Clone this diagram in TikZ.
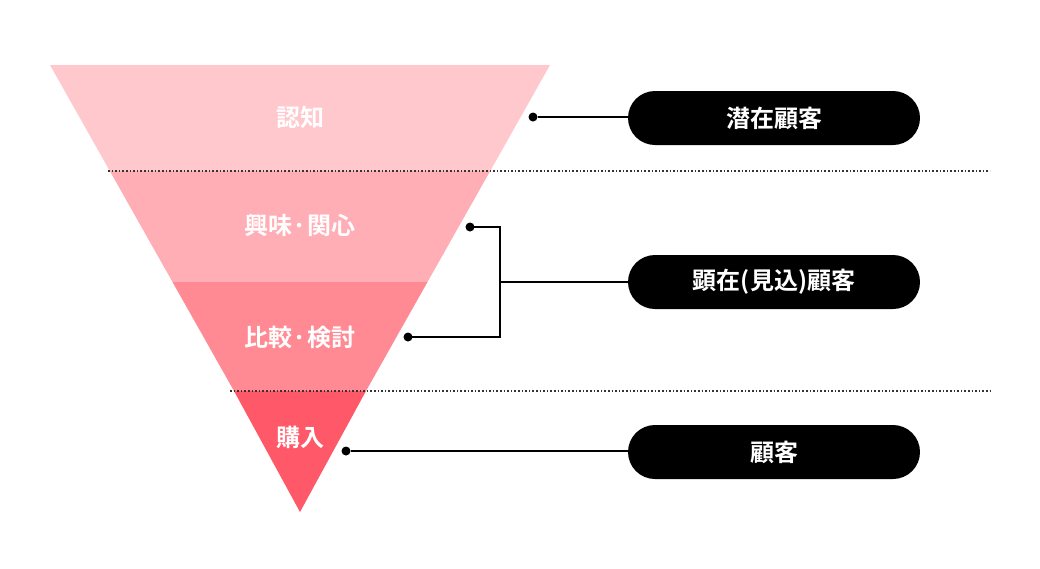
\documentclass[tikz,border=0pt]{standalone}
\usepackage{fontspec}
\setmainfont{Noto Sans CJK JP}[BoldFont={* Bold}]
\begin{document}
\begin{tikzpicture}[x=1pt,y=-1pt,
  lab/.style={text=white,font=\bfseries\fontsize{24}{24}\selectfont},
  pill/.style={fill=black,rounded corners=27pt,minimum width=292pt,minimum height=54pt,text=white,font=\bfseries\fontsize{24}{24}\selectfont},
  dot/.style={circle,fill=black,inner sep=0pt,minimum size=9pt},
  ln/.style={line width=1.3pt},
  dl/.style={dotted,line width=1.6pt,black!80}]
\useasboundingbox (0,0) rectangle (1040,568);
\fill[fill={rgb,255:red,255;green,200;blue,204}] (50,65) -- (550,65) -- (490.2,171) -- (109.8,171) -- cycle;
\fill[fill={rgb,255:red,255;green,174;blue,181}] (109.8,171) -- (490.2,171) -- (427.5,282) -- (172.5,282) -- cycle;
\fill[fill={rgb,255:red,255;green,138;blue,148}] (172.5,282) -- (427.5,282) -- (366,391) -- (234,391) -- cycle;
\fill[fill={rgb,255:red,255;green,88;blue,104}] (234,391) -- (366,391) -- (300,512) -- cycle;
\draw[dl] (108,171) -- (990,171);
\draw[dl] (230,391) -- (990,391);
\node[lab] (l1) at (300,117) {認知};
\node[lab] (l2) at (300,225) {興味·関心};
\node[lab] (l3) at (300,337) {比較·検討};
\node[lab] (l4) at (300,437) {購入};
\node[pill] (p1) at (774,118) {潜在顧客};
\node[pill] (p2) at (774,282) {顕在(見込)顧客};
\node[pill] (p3) at (774,452) {顧客};
\node[dot] (d1) at (533,117) {};
\node[dot] (d2) at (470,227) {};
\node[dot] (d3) at (408,337) {};
\node[dot] (d4) at (346,451) {};
\coordinate (b) at (500,282);
\draw[ln] (d1) -- (d1 -| p1.west);
\draw[ln] (d2.center) -| (b) |- (d3.center);
\draw[ln] (b) -- (p2.west);
\draw[ln] (d4) -- (d4 -| p3.west);
\end{tikzpicture}
\end{document}
